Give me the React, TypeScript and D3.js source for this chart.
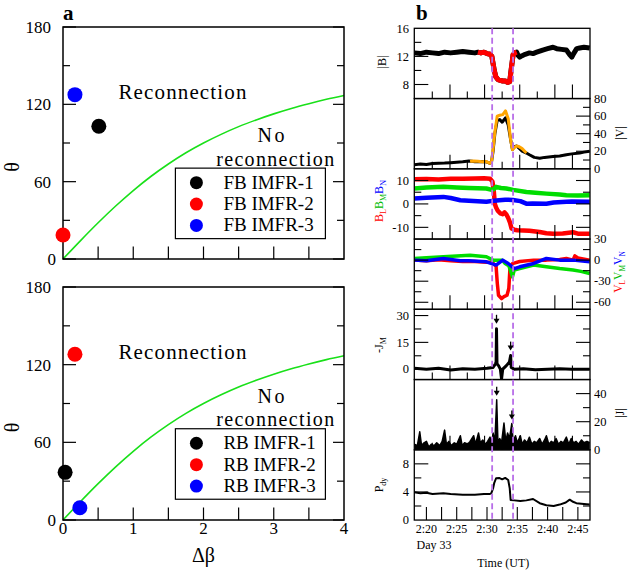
import React from "react";
import * as d3 from "d3";

const FONT = "'Liberation Serif', 'Times New Roman', serif";

// ---------- Panel a data ----------
const CURVE_DBETA = [0, 0.25, 0.5, 0.75, 1, 1.25, 1.5, 1.75, 2, 2.25, 2.5, 2.75, 3, 3.25, 3.5, 3.75, 4];
const CURVE_THETA = [0, 14.3, 28.1, 41.1, 53.1, 64.0, 73.7, 82.4, 90, 96.7, 102.7, 107.9, 112.6, 116.8, 120.5, 123.9, 126.9];
const FB_LABELS = ["FB IMFR-1", "FB IMFR-2", "FB IMFR-3"];
const FB_DBETA = [0.51, 0.0, 0.17];
const FB_THETA = [103, 18.6, 127.5];
const RB_LABELS = ["RB IMFR-1", "RB IMFR-2", "RB IMFR-3"];
const RB_DBETA = [0.03, 0.17, 0.24];
const RB_THETA = [36.8, 128, 9.5];
const MARK_COLORS = ["#000000", "#ff0000", "#0000ff"];
const THETA_TICKS = [180, 120, 60, 0];
const THETA_MINOR = [150, 90, 30];
const DBETA_TICKS = [0, 1, 2, 3, 4];
const DBETA_ALL = [0.5, 1, 1.5, 2, 2.5, 3, 3.5];

// ---------- Panel b data (t = minutes after 2:00 UT) ----------
const BMAG: [number, number][] = [[18,12.5],[19,12.4],[20,12.6],[21,12.5],[22,12.4],[23,12.6],[24,12.5],[25,12.6],[26,12.7],[27,12.6],[28,12.5],[28.5,12.6],[29,12.5],[29.5,12.6],[30,12.4],[30.5,12.3],[30.8,12.0],[31.0,11.0],[31.2,10.0],[31.46,9.1],[31.8,8.7],[32.2,8.6],[32.6,8.5],[33,8.5],[33.4,8.3],[33.75,8.4],[33.9,9.5],[34.05,10.5],[34.3,12.2],[34.6,12.5],[34.9,12.6],[35.1,12.2],[35.4,11.9],[35.8,12.1],[36.3,12.3],[37,12.5],[37.6,12.4],[38.2,12.6],[39.2,12.9],[40.0,13.1],[40.9,13.3],[41.5,13.1],[42.3,13.0],[43.1,12.9],[43.6,12.3],[44.0,11.9],[44.3,12.4],[44.8,13.1],[45.3,13.2],[46,13.3],[46.95,13.2]];
const BMAG_EVENT = [28.3, 34.9];
const VMAG: [number, number][] = [[18,4.6],[19,5.5],[20,5],[21,6],[22,6.3],[23,6.5],[24,7],[25,7.5],[26,8],[27,9],[27.5,8.5],[28,8],[29,8.3],[29.9,8],[30.5,6.3],[30.75,8],[31.0,20],[31.3,40],[31.68,55],[32.1,56],[32.5,53],[33.05,58],[33.5,50],[33.9,33],[34.2,22],[34.5,25],[34.9,26],[35.2,24],[35.8,20],[36.5,18],[37,16],[37.8,13],[38.7,12],[39.5,13],[40.9,14],[42,14.5],[43.1,16],[44,17],[45.3,18],[46,19],[46.95,20]];
const VMAG_MODEL: [number, number][] = [[27.2,8.5],[27.8,9],[28.5,8.5],[29.2,8],[29.9,8.2],[30.5,6.3],[30.75,8],[31.0,22],[31.3,42],[31.68,60],[32.1,61],[32.6,61.7],[33.05,66],[33.5,57],[33.9,33],[34.2,21.7],[34.5,24],[34.9,26],[35.2,25.5],[35.8,23],[36.5,18]];
const BL: [number, number][] = [[18,10.5],[20,10.6],[22,10.4],[24,10.7],[26,10.8],[28,10.9],[29.5,11],[30.5,10.8],[30.9,9.5],[31.1,6],[31.3,0],[31.5,-1.5],[31.8,-3],[32.2,-4],[32.6,-4.4],[32.9,-3.6],[33.2,-4.5],[33.5,-6],[33.8,-8],[34.05,-10.5],[34.5,-11],[35,-11.2],[36,-11.3],[37,-11.5],[38.7,-12],[39.8,-12.5],[40.9,-12.7],[42.5,-12.6],[44.2,-12.1],[45,-12.7],[46.95,-12.7]];
const BM: [number, number][] = [[18,6.6],[20,7],[22.8,7.3],[25,7],[27,6.8],[29.9,6.6],[30.8,6],[31.2,6.5],[31.5,7.3],[32.3,6.8],[33.2,6.6],[34.3,6],[36.5,5.1],[38,4.8],[39.8,4.4],[42,4],[43.1,3.7],[45,3.6],[46.95,3.7]];
const BN: [number, number][] = [[18,2.3],[20,2.6],[22.8,3],[24,2.5],[25.6,1.6],[27,1.4],[29.9,0.9],[31.2,1.4],[32,1.6],[33,1.8],[34.3,1.7],[35.5,1.2],[36.5,0.1],[37.5,0.2],[39.8,0.1],[41,0.6],[43.1,0.9],[44,1],[46.95,0.9]];
const VL: [number, number][] = [[18,0],[20,-1],[22,0.5],[24,-1],[26,-2],[28,-2],[29.9,-3],[30.8,-3],[31.2,-6],[31.5,-9],[31.7,-33],[31.9,-50],[32.4,-54.7],[32.8,-52],[33.3,-50],[33.6,-40.5],[33.8,-9.5],[34.2,-5],[35.4,-2],[37.7,0],[39.8,0],[42,1],[43.1,2.4],[44.2,0],[44.5,6],[45,3],[46.95,0]];
const VM: [number, number][] = [[18,2.4],[20,3.5],[22.8,4.8],[25,6],[27.2,7.1],[29.9,4.8],[31,0],[32.5,0],[33,-4.8],[33.6,-8],[34.2,-23.8],[34.5,-14],[35.4,-12],[37.7,-7],[39.8,-9.5],[42,-12],[44.2,-14],[45.5,-16],[46.95,-19]];
const VN: [number, number][] = [[18,0],[20,-1],[22.8,2.4],[25.6,-1],[27,-1],[29.9,-2.4],[31.5,-7],[32.6,0],[33.5,-4.8],[34.5,-12],[35.4,-9.5],[37.7,-4.8],[39.8,2.4],[42,0],[44.2,0],[46.95,-2.4]];
const JM: [number, number][] = [[18,0.5],[20,0],[22,0.5],[24,-0.5],[26,0.3],[28,0],[30,0.5],[31,1],[31.4,3],[31.5,4],[31.57,22.6],[31.65,3],[31.9,2],[32.2,0],[32.4,-5.5],[32.6,0],[33.2,2],[33.7,4],[33.9,7.6],[34.0,1],[34.5,0],[36,0.3],[38,-0.3],[40,0],[42,0.3],[44,0],[46.95,0]];
const JM_ARROWS = [31.57, 33.9];
const JMAG: [number, number][] = [[18,4],[18.5,3],[18.9,12.8],[19.2,3],[19.6,5],[20,6],[20.4,2],[20.8,4],[21.3,3],[21.7,5],[22.2,3],[22.6,6],[23,14],[23.3,4],[23.7,6],[24.1,3],[24.6,5],[25,4],[25.6,10],[25.9,3],[26.3,5],[26.8,4],[27.2,6],[27.8,10],[28.1,4],[28.6,12],[28.9,5],[29.3,7],[29.7,4],[30.1,6],[30.5,9],[30.8,5],[31.0,12],[31.3,6],[31.6,35.6],[31.8,6],[32.1,8],[32.4,5],[32.8,19],[33.1,6],[33.4,12],[33.7,8],[34.1,18.8],[34.3,6],[34.7,10],[35,5],[35.5,10],[35.8,4],[36.2,7],[36.6,5],[37,9],[37.4,4],[37.8,6],[38.2,5],[38.7,8],[39.1,4],[39.5,7],[39.8,10],[40.2,4],[40.6,6],[41,5],[41.4,8],[41.8,4],[42.2,6],[42.6,5],[43.1,9],[43.5,4],[43.9,8],[44.3,5],[44.7,6],[45.1,4],[45.6,7],[46,5],[46.5,6],[46.95,5]];
const JMAG_ARROWS = [31.6, 34.1];
const PDY: [number, number][] = [[18,3.95],[19,3.8],[20,3.9],[21,3.7],[22.8,3.8],[24,3.7],[26,3.6],[28,3.6],[29.5,3.7],[30.4,3.7],[30.7,3.8],[31.0,4.5],[31.2,5.3],[31.5,5.95],[32,6.0],[32.5,5.8],[33,6.0],[33.5,5.7],[33.75,4.5],[33.9,2.86],[34.5,2.8],[35.5,2.7],[36.5,2.8],[37.6,3.0],[38.7,2.4],[39.8,2.1],[41,2.0],[42,2.2],[43,2.5],[43.65,2.9],[44.2,2.6],[44.75,2.4],[46,2.3],[46.95,2.2]];
const EVENT_LINES = [30.85, 34.3];
const TIME_DOMAIN = [18, 47];
const TOP_TIME_TICKS = [20.97, 23.89, 26.75, 29.6, 32.5, 35.4, 38.3, 41.2, 44.1];
const TOP_TIME_LONG = [false, true, false, true, false, true, false, true, true];
const BOTTOM_TIME_TICKS = [20, 22.5, 25, 27.5, 30, 32.5, 35, 37.5, 40, 42.5, 45];
const TIME_LABELS = ["2:20", "2:25", "2:30", "2:35", "2:40", "2:45"];
const TIME_LABEL_T = [20, 25, 30, 35, 40, 45];

// ---------- Panel a ----------
function ScatterPanel({ top, bottom, labels, dbeta, theta, showX }: any) {
  const x = d3.scaleLinear().domain([0, 4]).range([63, 344]);
  const y = d3.scaleLinear().domain([0, 180]).range([bottom, top]);
  const line = d3.line<number>().x((_, i) => x(CURVE_DBETA[i])).y((d) => y(d)).curve(d3.curveMonotoneX);
  const lx = x(1.6), ly = y(70.5), lw = 150, lh = 70.5;
  return (
    <g>
      <path d={line(CURVE_THETA) || ""} fill="none" stroke="#19e019" strokeWidth={1.6} />
      {THETA_TICKS.map((t) => (
        <g key={"m" + t}>
          <line x1={63} x2={76} y1={y(t)} y2={y(t)} stroke="#000" strokeWidth={1.2} />
          <line x1={344} x2={333} y1={y(t)} y2={y(t)} stroke="#000" strokeWidth={1.2} />
          <text x={t === 0 ? 56 : 51} y={y(t) + 6} fontSize={17} textAnchor="end">{t}</text>
        </g>
      ))}
      {THETA_MINOR.map((t) => (
        <g key={"n" + t}>
          <line x1={63} x2={70} y1={y(t)} y2={y(t)} stroke="#000" strokeWidth={1.2} />
          <line x1={344} x2={337} y1={y(t)} y2={y(t)} stroke="#000" strokeWidth={1.2} />
        </g>
      ))}
      {DBETA_ALL.map((d) => (
        <line key={"b" + d} x1={x(d)} x2={x(d)} y1={bottom} y2={bottom - 12.5} stroke="#000" strokeWidth={1.2} />
      ))}
      {showX && DBETA_TICKS.map((d) => (
        <text key={"xl" + d} x={x(d)} y={bottom + 14} fontSize={17} textAnchor="middle">{d}</text>
      ))}
      <rect x={63} y={top} width={281} height={bottom - top} fill="none" stroke="#000" strokeWidth={1.5} />
      <text x={x(1.7)} y={y(124)} fontSize={21} textAnchor="middle" textLength={128}>Reconnection</text>
      <text x={x(2.96)} y={y(90.5)} fontSize={20} textAnchor="middle" textLength={27}>No</text>
      <text x={x(3.02)} y={y(72.5)} fontSize={20} textAnchor="middle" textLength={118}>reconnection</text>
      <rect x={lx} y={ly} width={lw} height={lh} fill="#fff" stroke="#000" strokeWidth={1.2} />
      {labels.map((l: string, i: number) => (
        <g key={l}>
          <circle cx={lx + 21} cy={ly + 14.5 + i * 21.4} r={6.5} fill={MARK_COLORS[i]} />
          <text x={lx + 48} y={ly + 20.5 + i * 21.4} fontSize={19}>{l}</text>
        </g>
      ))}
      {dbeta.map((d: number, i: number) => (
        <circle key={"p" + i} cx={x(d)} cy={y(theta[i])} r={7.5} fill={MARK_COLORS[i]} />
      ))}
      <text transform={`translate(19,${(top + bottom) / 2 + 24}) rotate(-90)`} fontSize={20} textAnchor="middle">θ</text>
    </g>
  );
}

// ---------- Panel b ----------
const PX0 = 414.3, PX1 = 590, PTOP = 28.3, PH = 70.25;
const xT = d3.scaleLinear().domain(TIME_DOMAIN).range([PX0, PX1]);

type Series = { data: [number, number][]; color: string; width: number; area?: boolean; range?: number[] };
type PanelCfg = {
  domain: [number, number];
  labelSide: "left" | "right";
  labels: number[];
  majors: number[];
  minors: number[];
  tickSides: ("left" | "right")[];
  series: Series[];
};

const inRange = (d: [number, number][], r?: number[]) => (r ? d.filter((p) => p[0] >= r[0] && p[0] <= r[1]) : d);

const PANELS: PanelCfg[] = [
  { domain: [6, 16], labelSide: "left", labels: [16, 12, 8], majors: [12, 8], minors: [14, 10], tickSides: ["left"],
    series: [{ data: BMAG, color: "#000", width: 5 }, { data: BMAG, color: "#ff0000", width: 5, range: BMAG_EVENT }] },
  { domain: [0, 80], labelSide: "right", labels: [80, 60, 40, 20, 0], majors: [60, 40, 20], minors: [70, 50, 30, 10], tickSides: ["right"],
    series: [{ data: VMAG, color: "#000", width: 3 }, { data: VMAG_MODEL, color: "#ffa500", width: 3 }] },
  { domain: [-15, 15], labelSide: "left", labels: [10, 0, -10], majors: [10, 0, -10], minors: [5, -5], tickSides: ["left", "right"],
    series: [{ data: BL, color: "#ff0000", width: 4.5 }, { data: BM, color: "#00dd00", width: 4.5 }, { data: BN, color: "#0000ff", width: 4.5 }] },
  { domain: [-70, 30], labelSide: "right", labels: [30, 0, -30, -60], majors: [0, -30, -60], minors: [15, -15, -45], tickSides: ["left", "right"],
    series: [{ data: VL, color: "#ff0000", width: 3.5 }, { data: VM, color: "#00dd00", width: 3.5 }, { data: VN, color: "#0000ff", width: 3.5 }] },
  { domain: [-5.8, 33.5], labelSide: "left", labels: [30, 15, 0], majors: [30, 15, 0], minors: [22.5, 7.5], tickSides: ["left", "right"],
    series: [{ data: JM, color: "#000", width: 3 }] },
  { domain: [0, 50], labelSide: "right", labels: [40, 20, 0], majors: [40, 20], minors: [30, 10], tickSides: ["right"],
    series: [{ data: JMAG, color: "#000", width: 1.5, area: true }] },
  { domain: [0, 10], labelSide: "left", labels: [8, 4, 0], majors: [8, 4], minors: [6, 2], tickSides: ["left", "right"],
    series: [{ data: PDY, color: "#000", width: 2 }] },
];

function Arrow({ x, y }: { x: number; y: number }) {
  return (
    <g>
      <line x1={x} x2={x} y1={y - 9} y2={y - 4} stroke="#000" strokeWidth={1.3} />
      <path d={`M${x - 3},${y - 5} L${x + 3},${y - 5} L${x},${y} Z`} fill="#000" />
    </g>
  );
}

function TimePanel({ cfg, idx }: { cfg: PanelCfg; idx: number }) {
  const top = PTOP + idx * PH, bottom = top + PH;
  const y = d3.scaleLinear().domain(cfg.domain).range([bottom, top]);
  const line = d3.line<[number, number]>().x((d) => xT(d[0])).y((d) => y(d[1])).curve(d3.curveLinear);
  const area = d3.area<[number, number]>().x((d) => xT(d[0])).y0(y(0)).y1((d) => y(d[1]));
  const clipId = "clip" + idx;
  const isLast = idx === PANELS.length - 1;
  return (
    <g>
      <clipPath id={clipId}><rect x={PX0} y={top} width={PX1 - PX0} height={PH} /></clipPath>
      <g clipPath={`url(#${clipId})`}>
        {cfg.series.map((s, i) => {
          const d = inRange(s.data, s.range);
          return (
            <g key={i}>
              {s.area && <path d={area(d) || ""} fill="#000" />}
              <path d={line(d) || ""} fill="none" stroke={s.color} strokeWidth={s.width} strokeLinejoin="round" />
            </g>
          );
        })}
      </g>
      {cfg.tickSides.map((side) => {
        const x0 = side === "left" ? PX0 : PX1, dir = side === "left" ? 1 : -1;
        return (
          <g key={side}>
            {cfg.majors.map((v) => <line key={"M" + v} x1={x0} x2={x0 + dir * 14} y1={y(v)} y2={y(v)} stroke="#000" strokeWidth={1.1} />)}
            {cfg.minors.map((v) => <line key={"m" + v} x1={x0} x2={x0 + dir * 7} y1={y(v)} y2={y(v)} stroke="#000" strokeWidth={1.1} />)}
          </g>
        );
      })}
      {cfg.labels.map((v) => (
        <text key={"l" + v} x={cfg.labelSide === "left" ? 409 : 594} y={y(v) + 4.2} fontSize={12.5}
          textAnchor={cfg.labelSide === "left" ? "end" : "start"}>{v}</text>
      ))}
      {!isLast && TOP_TIME_TICKS.map((t, i) => (
        <line key={"t" + i} x1={xT(t)} x2={xT(t)} y1={bottom} y2={bottom - (TOP_TIME_LONG[i] ? 14 : 7)} stroke="#000" strokeWidth={1.1} />
      ))}
      {isLast && BOTTOM_TIME_TICKS.map((t) => (
        <line key={"t" + t} x1={xT(t)} x2={xT(t)} y1={bottom} y2={bottom - 13} stroke="#000" strokeWidth={1.1} />
      ))}
      <rect x={PX0} y={top} width={PX1 - PX0} height={PH} fill="none" stroke="#000" strokeWidth={1.3} />
    </g>
  );
}

export default function App() {
  const jmY = d3.scaleLinear().domain(PANELS[4].domain).range([PTOP + 5 * PH, PTOP + 4 * PH]);
  const jY = d3.scaleLinear().domain(PANELS[5].domain).range([PTOP + 6 * PH, PTOP + 5 * PH]);
  const valAt = (data: [number, number][], t: number) => data.find((p) => p[0] === t)?.[1] ?? 0;
  const bBottom = PTOP + 7 * PH;
  return (
    <svg width={628} height={571} style={{ position: "absolute", left: 0, top: 0, display: "block" }} fontFamily={FONT}>
      <rect width={628} height={571} fill="#fff" />
      <text x={63} y={20} fontSize={21} fontWeight="bold">a</text>
      <ScatterPanel top={27} bottom={259} labels={FB_LABELS} dbeta={FB_DBETA} theta={FB_THETA} showX={false} />
      <ScatterPanel top={287} bottom={520} labels={RB_LABELS} dbeta={RB_DBETA} theta={RB_THETA} showX={true} />
      <text x={203.5} y={562} fontSize={20} textAnchor="middle">Δβ</text>

      <text x={416} y={20} fontSize={21} fontWeight="bold">b</text>
      {PANELS.map((p, i) => <TimePanel key={i} cfg={p} idx={i} />)}
      {EVENT_LINES.map((t) => (
        <line key={t} x1={xT(t)} x2={xT(t)} y1={PTOP} y2={bBottom} stroke="#b86ee8" strokeWidth={1.8} strokeDasharray="6,3.5" />
      ))}
      {JM_ARROWS.map((t) => <Arrow key={"a" + t} x={xT(t)} y={jmY(valAt(JM, t)) - 5} />)}
      {JMAG_ARROWS.map((t) => <Arrow key={"b" + t} x={xT(t)} y={jY(valAt(JMAG, t)) - 4} />)}

      {/* left labels */}
      <text transform="translate(386,62) rotate(-90)" fontSize={12} textAnchor="middle">|B|</text>
      <text transform="translate(383,201) rotate(-90)" fontSize={12} textAnchor="middle">
        <tspan fill="#ff0000">B</tspan><tspan fill="#ff0000" fontSize={8} dy={3}>L</tspan>
        <tspan fill="#00bb00" dy={-3}>B</tspan><tspan fill="#00bb00" fontSize={8} dy={3}>M</tspan>
        <tspan fill="#0000ff" dy={-3}>B</tspan><tspan fill="#0000ff" fontSize={8} dy={3}>N</tspan>
      </text>
      <text transform="translate(383,345) rotate(-90)" fontSize={12} textAnchor="middle">
        -J<tspan fontSize={8} dy={3}>M</tspan>
      </text>
      <text transform="translate(383,485) rotate(-90)" fontSize={12} textAnchor="middle">
        P<tspan fontSize={8} dy={3}>dy</tspan>
      </text>
      {/* right labels */}
      <text transform="translate(624,133) rotate(-90)" fontSize={11.5} textAnchor="middle">|V|</text>
      <text transform="translate(622,272) rotate(-90)" fontSize={11.5} textAnchor="middle">
        <tspan fill="#ff0000">V</tspan><tspan fill="#ff0000" fontSize={7.5} dy={2.5}>L</tspan>
        <tspan fill="#00bb00" dy={-2.5}>V</tspan><tspan fill="#00bb00" fontSize={7.5} dy={2.5}>M</tspan>
        <tspan fill="#0000ff" dy={-2.5}>V</tspan><tspan fill="#0000ff" fontSize={7.5} dy={2.5}>N</tspan>
      </text>
      <text transform="translate(624,413) rotate(-90)" fontSize={11.5} textAnchor="middle">|J|</text>

      {TIME_LABELS.map((l, i) => (
        <text key={l} x={xT(TIME_LABEL_T[i])} y={533} fontSize={12} textAnchor="middle">{l}</text>
      ))}
      <text x={416.5} y={549} fontSize={12}>Day 33</text>
      <text x={503.3} y={567} fontSize={12} textAnchor="middle">Time (UT)</text>
    </svg>
  );
}
